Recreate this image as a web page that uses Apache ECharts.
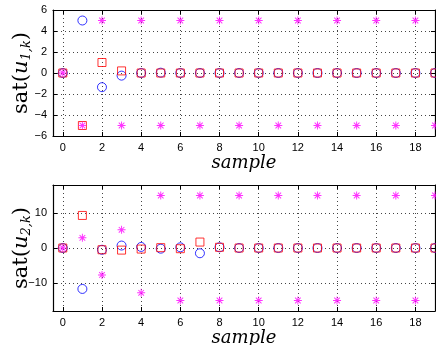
<!DOCTYPE html>
<html>
<head>
<meta charset="utf-8">
<script src="https://cdn.jsdelivr.net/npm/echarts@6/dist/echarts.min.js"></script>
<style>
  html, body { margin: 0; padding: 0; background: #fff; }
  #chart { width: 436px; height: 345px; }
</style>
</head>
<body>
<div id="chart"></div>
<script>
// sample index
const samples = [0, 1, 2, 3, 4, 5, 6, 7, 8, 9, 10, 11, 12, 13, 14, 15, 16, 17, 18, 19];
const xTicks = [0, 2, 4, 6, 8, 10, 12, 14, 16, 18];

// sat(u_{1,k})
const u1Blue = [0, 5, -1.35, -0.25, 0, 0.03, 0, 0, 0, 0, 0, 0, 0, 0, 0, 0, 0, 0, 0, 0];
const u1Red = [0, -5, 1, 0.2, 0, 0, 0, 0, 0, 0, 0, 0, 0, 0, 0, 0, 0, 0, 0, 0];
const u1Magenta = [0, -5, 5, -5, 5, -5, 5, -5, 5, -5, 5, -5, 5, -5, 5, -5, 5, -5, 5, -5];
const u1Ticks = [-6, -4, -2, 0, 2, 4, 6];

// sat(u_{2,k})
const u2Blue = [0, -11.7, -0.5, 0.7, 0.3, -0.2, 0.2, -1.5, 0.2, 0, 0, 0, 0, 0, 0, 0, 0, 0, 0, 0];
const u2Red = [0, 9.3, -0.5, -0.6, -0.3, 0.1, -0.2, 1.7, 0.2, 0, 0, 0, 0, 0, 0, 0, 0, 0, 0, 0];
const u2Magenta = [0, 2.9, -7.7, 5.2, -12.8, 15, -15, 15, -15, 15, -15, 15, -15, 15, -15, 15, -15, 15, -15, 15];
const u2Ticks = [-10, 0, 10];

const asterisk = 'path://M-1,-0.12L1,-0.12L1,0.12L-1,0.12Z' +
  'M-0.12,-1L0.12,-1L0.12,1L-0.12,1Z' +
  'M-0.615,-0.785L0.785,0.615L0.615,0.785L-0.785,-0.615Z' +
  'M0.785,-0.615L-0.615,0.785L-0.785,0.615L0.615,-0.785Z';

const chart = echarts.init(document.getElementById('chart'), null, { renderer: 'canvas' });

const tickFont = { fontFamily: 'Liberation Sans', fontSize: 11, color: '#000' };
const gridLine = { show: true, lineStyle: { color: '#444', type: [1, 3], width: 1 } };
const minus = v => String(v).replace('-', '\u2212');

const pair = (a) => samples.map((x, i) => [x, a[i]]);

function xAxes(gi) {
  return [
    {
      gridIndex: gi, type: 'value', min: -0.5, max: 19,
      axisLine: { show: true, onZero: false, lineStyle: { color: '#000', width: 1.2 } },
      axisTick: { show: true, inside: true, length: 4, customValues: xTicks, lineStyle: { color: '#000' } },
      axisLabel: { customValues: xTicks, margin: 6, ...tickFont },
      splitLine: gridLine,
      name: 'sample', nameLocation: 'middle', nameGap: 13,
      nameTextStyle: { fontFamily: 'DejaVu Serif', fontStyle: 'italic', fontSize: 18, color: '#000' }
    },
    {
      gridIndex: gi, type: 'value', min: -0.5, max: 19, position: 'top',
      axisLine: { show: true, onZero: false, lineStyle: { color: '#000', width: 1.2 } },
      axisTick: { show: true, inside: true, length: 4, customValues: xTicks, lineStyle: { color: '#000' } },
      axisLabel: { show: false }, splitLine: { show: false }
    }
  ];
}

function yAxes(gi, min, max, ticks, sub) {
  return [
    {
      gridIndex: gi, type: 'value', min: min, max: max,
      axisLine: { show: true, onZero: false, lineStyle: { color: '#000', width: 1.2 } },
      axisTick: { show: true, inside: true, length: 4, customValues: ticks, lineStyle: { color: '#000' } },
      axisLabel: { customValues: ticks, margin: 6, formatter: minus, ...tickFont },
      splitLine: gridLine,
      name: '{a|sat(}{b|u}{c|' + sub + '}{a|)}', nameLocation: 'middle', nameGap: 20,
      nameMoveOverlap: false,
      nameTextStyle: {
        rich: {
          a: { fontFamily: 'DejaVu Serif', fontSize: 21, color: '#000' },
          b: { fontFamily: 'DejaVu Serif', fontStyle: 'italic', fontSize: 21, color: '#000' },
          c: { fontFamily: 'DejaVu Serif', fontStyle: 'italic', fontSize: 13, color: '#000', padding: [9, 0, 0, 0] }
        }
      }
    },
    {
      gridIndex: gi, type: 'value', min: min, max: max, position: 'right',
      axisLine: { show: true, onZero: false, lineStyle: { color: '#000', width: 1.2 } },
      axisTick: { show: true, inside: true, length: 4, customValues: ticks, lineStyle: { color: '#000' } },
      axisLabel: { show: false }, splitLine: { show: false }
    }
  ];
}

function markers(xi, yi, blue, red, magenta) {
  return [
    {
      type: 'scatter', xAxisIndex: xi, yAxisIndex: yi, data: pair(blue), symbol: 'circle', symbolSize: 9,
      itemStyle: { color: 'rgba(0,0,0,0)', borderColor: '#0000ff', borderWidth: 1 }, clip: true
    },
    {
      type: 'scatter', xAxisIndex: xi, yAxisIndex: yi, data: pair(red), symbol: 'rect', symbolSize: 8,
      itemStyle: { color: 'rgba(0,0,0,0)', borderColor: '#ff0000', borderWidth: 1 }, clip: true
    },
    {
      type: 'scatter', xAxisIndex: xi, yAxisIndex: yi, data: pair(magenta), symbol: asterisk, symbolSize: 8,
      itemStyle: { color: '#ff00ff' }, clip: true
    }
  ];
}

const option = {
  animation: false,
  backgroundColor: '#fff',
  grid: [
    { left: 53, top: 10, width: 382, height: 126, containLabel: false, outerBoundsMode: 'none' },
    { left: 53, top: 185, width: 382, height: 126, containLabel: false, outerBoundsMode: 'none' }
  ],
  xAxis: [...xAxes(0), ...xAxes(1)],
  yAxis: [...yAxes(0, -6, 6, u1Ticks, '1,k'), ...yAxes(1, -18, 18, u2Ticks, '2,k')],
  series: [...markers(0, 0, u1Blue, u1Red, u1Magenta), ...markers(2, 2, u2Blue, u2Red, u2Magenta)]
};

chart.setOption(option);
</script>
</body>
</html>
